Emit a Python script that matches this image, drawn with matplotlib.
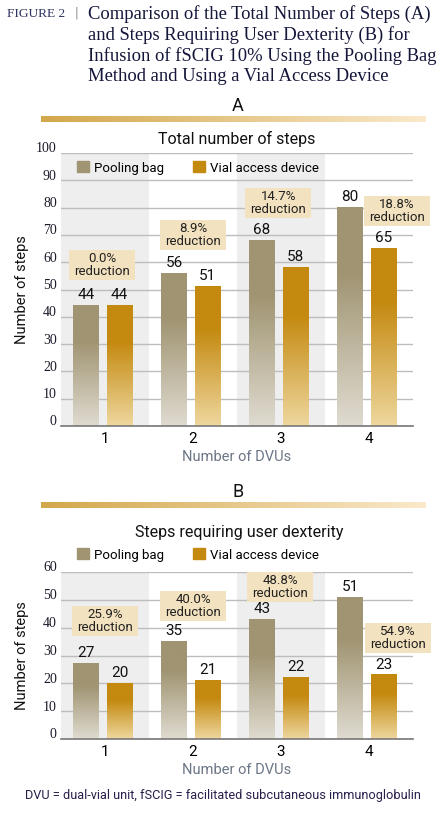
import numpy as np
import matplotlib
matplotlib.use("Agg")
from matplotlib import pyplot as plt
from matplotlib import transforms
from matplotlib.colors import to_rgb
from matplotlib.patches import Patch, Rectangle

# ---- data ----
categories = ["1", "2", "3", "4"]
total_pooling = [44, 56, 68, 80]
total_vial = [44, 51, 58, 65]
total_reduction = ["0.0%", "8.9%", "14.7%", "18.8%"]
dext_pooling = [27, 35, 43, 51]
dext_vial = [20, 21, 22, 23]
dext_reduction = ["25.9%", "40.0%", "48.8%", "54.9%"]

# label placement (x offset from category, y centre) for the reduction boxes
total_box_pos = [(-0.03, 59), (0.0, 70), (-0.03, 81.7), (0.32, 78.8)]
dext_box_pos = [(0.0, 42.4), (0.0, 47.8), (-0.01, 54.6), (0.33, 36.3)]

POOL_DARK, POOL_LIGHT = "#A09472", "#DFDBD0"
VIAL_DARK, VIAL_LIGHT = "#C4890F", "#EED79E"
SHADE = "#EEEEEE"
BOX = "#F3E2BF"
SANS = "Roboto"
SERIF = "Liberation Serif"

W, H = 447, 814
fig = plt.figure(figsize=(W / 100, H / 100), dpi=100)


def fx(px):
    return px / W


def fy(py):
    return 1 - py / H


def grad_img(dark, light, n=200, solid=0.3):
    d = np.array(to_rgb(dark))
    l = np.array(to_rgb(light))
    t = np.linspace(0, 1, n)  # 0 bottom, 1 top
    s = np.clip(t / (1 - solid), 0, 1)
    cols = l[None, :] * (1 - s[:, None]) + d[None, :] * s[:, None]
    return cols[::-1, None, :]


def panel(ax, pooling, vial, reductions, box_pos, ymax):
    x = np.arange(len(categories))
    ax.set_xlim(-0.5, len(categories) - 0.5)
    ax.set_ylim(0, ymax)
    for i in x[::2]:
        ax.axvspan(i - 0.5, i + 0.5, color=SHADE, zorder=0, lw=0)
    ax.set_yticks(np.arange(0, ymax + 1, 10))
    ax.yaxis.grid(True, color="#BDBDBD", lw=1, zorder=1)
    ax.set_axisbelow(True)
    for arr, off, dark, light in [(pooling, -0.215, POOL_DARK, POOL_LIGHT),
                                  (vial, 0.165, VIAL_DARK, VIAL_LIGHT)]:
        bars = ax.bar(x + off, arr, 0.29, color=dark, zorder=2)
        for rect, v in zip(bars, arr):
            x0, w, h = rect.get_x(), rect.get_width(), rect.get_height()
            ax.imshow(grad_img(dark, light), extent=[x0, x0 + w, 0, h],
                      aspect="auto", zorder=2.5, interpolation="bilinear")
            ax.annotate(str(v), (x0 + w / 2, h), xytext=(0, 2.5),
                        textcoords="offset points", ha="center", va="bottom",
                        fontsize=11, family=SANS, color="#111111")
    bw, bh = 66 / 100, 30 / 100  # box size in inches
    for i, (r, (dx, yc)) in enumerate(zip(reductions, box_pos)):
        tr = fig.dpi_scale_trans + transforms.ScaledTranslation(i + dx, yc, ax.transData)
        ax.add_patch(Rectangle((-bw / 2, -bh / 2), bw, bh, transform=tr,
                               fc=BOX, ec="none", zorder=3.5, clip_on=False))
        ax.text(i + dx, yc, r + "\nreduction", ha="center", va="center",
                fontsize=9.5, family=SANS, color="#222222", linespacing=1.0,
                zorder=4, clip_on=False)
    ax.set_xlim(-0.5, len(categories) - 0.5)
    ax.set_ylim(0, ymax)
    ax.set_xticks(x)
    ax.set_xticklabels(categories, family=SANS, fontsize=11)
    for s in ["top", "right", "left"]:
        ax.spines[s].set_visible(False)
    ax.spines["bottom"].set_color("#777777")
    ax.spines["bottom"].set_linewidth(1.2)
    ax.spines["bottom"].set_zorder(3)
    ax.tick_params(axis="both", length=0)
    ax.tick_params(axis="x", pad=4)
    ax.tick_params(axis="y", pad=3)
    off = transforms.ScaledTranslation(0, 4 / 72, fig.dpi_scale_trans)
    for lab in ax.get_yticklabels():
        lab.set_family(SERIF)
        lab.set_fontsize(10)
        lab.set_color("#1A1A2A")
        lab.set_transform(lab.get_transform() + off)
    ax.set_xlabel("Number of DVUs", family=SANS, fontsize=10.5, color="#6B7585",
                  labelpad=3)
    ax.set_ylabel("Number of steps", family=SANS, fontsize=10.5, color="#111111")
    ax.yaxis.set_label_coords(-0.111, 0.5)
    ax.yaxis.label.set_va("center")


def header(letter, yc, ybar):
    fig.text(fx(238), fy(yc), letter, ha="center", va="center", fontsize=13,
             family=SANS, color="#111111")
    gax = fig.add_axes([fx(41), fy(ybar + 6), fx(385), 6 / H])
    g = np.linspace(0, 1, 256)
    c0, c1 = np.array(to_rgb("#D3A74B")), np.array(to_rgb("#FAE9CA"))
    img = c0[None, :] * (1 - g[:, None]) + c1[None, :] * g[:, None]
    gax.imshow(img[None, :, :], aspect="auto", extent=[0, 1, 0, 1])
    gax.axis("off")


def legend(ax, xl, yc):
    handles = [Patch(color=POOL_DARK, label="Pooling bag"),
               Patch(color=VIAL_DARK, label="Vial access device")]
    leg = ax.legend(handles=handles, loc="center left",
                    bbox_to_anchor=(fx(xl), fy(yc)), bbox_transform=fig.transFigure,
                    frameon=False, ncol=2, handlelength=0.9,
                    handleheight=0.9, handletextpad=0.4, columnspacing=2.2,
                    borderpad=0, borderaxespad=0,
                    prop=dict(family=SANS, size=9.5))
    leg.set_zorder(5)


# ---- heading ----
fig.text(fx(7), fy(16.7), "FIGURE 2", family=SERIF, fontsize=9.6, color="#2E3360",
         va="baseline")
fig.text(fx(77), fy(17.5), "|", family=SANS, fontsize=10.5, color="#9A9A9A",
         va="baseline", ha="center")
title_lines = ["Comparison of the Total Number of Steps (A)",
               "and Steps Requiring User Dexterity (B) for",
               "Infusion of fSCIG 10% Using the Pooling Bag",
               "Method and Using a Vial Access Device"]
for line, yb in zip(title_lines, [19.3, 39.7, 61, 81]):
    fig.text(fx(88), fy(yb), line, family=SERIF, fontsize=13.4, color="#14163A",
             va="baseline")

# ---- panel A ----
header("A", 106, 116)
axA = fig.add_axes([fx(61), fy(426), fx(352), (426 - 153) / H])
panel(axA, total_pooling, total_vial, total_reduction, total_box_pos, 100)
fig.text(fx(237), fy(139), "Total number of steps", ha="center", va="center",
         fontsize=11.5, family=SANS, color="#111111")
legend(axA, 77, 168)

# ---- panel B ----
header("B", 492, 502)
axB = fig.add_axes([fx(61), fy(739), fx(352), (739 - 572) / H])
panel(axB, dext_pooling, dext_vial, dext_reduction, dext_box_pos, 60)
fig.text(fx(239), fy(532), "Steps requiring user dexterity", ha="center",
         va="center", fontsize=11.5, family=SANS, color="#111111")
legend(axB, 77, 555)

# ---- footnote ----
fig.text(fx(223), fy(796), "DVU = dual-vial unit, fSCIG = facilitated subcutaneous immunoglobulin",
         ha="center", va="center", fontsize=9.2, family=SANS, color="#2A1F4A")

fig.savefig("out.png", dpi=100)
